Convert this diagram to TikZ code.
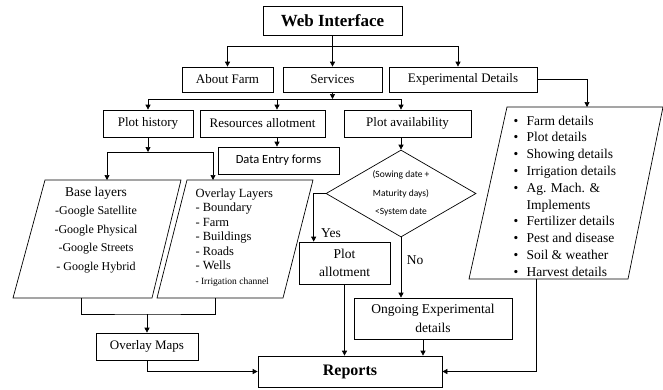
\documentclass[tikz,border=0pt]{standalone}
\usepackage{fontspec}
\setmainfont{Liberation Serif}
\newfontfamily\calibri{Carlito}
\usetikzlibrary{arrows.meta,calc,shapes.geometric,positioning}

\newcommand{\bitem}{\makebox[13pt][l]{\textbullet}}

\begin{document}
\begin{tikzpicture}[x=1pt,y=-1pt]
    \tikzset{BoxStyle/.style={draw, line width=0.7pt, inner sep=0pt, align=center,
        font=\fontsize{13}{18}\selectfont},
      ParaStyle/.style={draw, line width=0.7pt, line join=miter},
      EdgeStyle/.style={line width=0.7pt, -{Triangle[length=5pt,width=5pt]}},
      LineStyle/.style={line width=0.7pt}}
    \useasboundingbox (0,0) rectangle (663,389);
    \node[BoxStyle, minimum width=139pt, minimum height=29pt, font=\fontsize{17}{20}\selectfont\bfseries] (web) at (332.5,20.5) {Web Interface};
    \node[BoxStyle, minimum width=91pt, minimum height=25pt] (about) at (227.5,79.5) {About Farm};
    \node[BoxStyle, minimum width=99pt, minimum height=25pt] (services) at (332.5,79.5) {Services};
    \node[BoxStyle, minimum width=148pt, minimum height=25pt] (expt) at (463,79.5) {Experimental Details};
    \node[BoxStyle, minimum width=90pt, minimum height=27pt] (plothist) at (148,123.5) {Plot history};
    \node[BoxStyle, minimum width=125pt, minimum height=27pt] (resource) at (262.5,123.5) {Resources allotment};
    \node[BoxStyle, minimum width=127pt, minimum height=27pt] (plotavail) at (407.5,123.5) {Plot availability};
    \node[BoxStyle, minimum width=121pt, minimum height=27pt, font=\calibri\fontsize{12.5}{15}\selectfont] (dataentry) at (278.5,160.5) {Data Entry forms};
    \draw[ParaStyle] (45,180) coordinate (baseNW) -- (181,180) coordinate (baseNE) -- (152,298) coordinate (baseSE) -- (13,298) coordinate (baseSW) -- cycle;
    \draw[ParaStyle] (187,180) coordinate (overlayNW) -- (313,180) coordinate (overlayNE) -- (283,298) coordinate (overlaySE) -- (157,298) coordinate (overlaySW) -- cycle;
    \draw[ParaStyle] (507,107) coordinate (expNW) -- (663,107) coordinate (expNE) -- (628,279) coordinate (expSE) -- (469,279) coordinate (expSW) -- cycle;
    \node[align=center, font=\fontsize{12}{18.5}\selectfont] (basetxt) at (96,230) {{\fontsize{13.5}{18.5}\selectfont Base layers}\\-Google Satellite\\-Google Physical\\-Google Streets\\- Google Hybrid};
    \node[align=left, anchor=west, font=\fontsize{12.5}{14.5}\selectfont] (overlaytxt) at (192,237.5) {Overlay Layers\\- Boundary\\- Farm\\- Buildings\\- Roads\\- Wells\\{\fontsize{9.5}{14.5}\selectfont - Irrigation channel}};
    \node[align=left, anchor=west, font=\fontsize{13.5}{16.8}\selectfont] (expttxt) at (510,196) {\bitem Farm details\\\bitem Plot details\\\bitem Showing details\\\bitem Irrigation details\\\bitem Ag. Mach. \&\\\hphantom{\bitem}Implements\\\bitem Fertilizer details\\\bitem Pest and disease\\\bitem Soil \& weather\\\bitem Harvest details};
    \node[draw, line width=0.7pt, diamond, aspect=1.72, minimum width=150pt, minimum height=87pt, inner sep=0pt, align=center,
      font=\calibri\fontsize{9.5}{18.5}\selectfont] (avail) at (401,193.5) {(Sowing date +\\Maturity days)\\<System date};
    \node[BoxStyle, minimum width=91pt, minimum height=42pt, font=\fontsize{13.5}{18}\selectfont] (allot) at (344.5,263) {Plot\\allotment};
    \node[BoxStyle, minimum width=158pt, minimum height=41pt, font=\fontsize{13.5}{19}\selectfont] (ongoing) at (433,318.5) {Ongoing Experimental\\details};
    \node[BoxStyle, minimum width=102pt, minimum height=27pt] (maps) at (147,346.5) {Overlay Maps};
    \node[BoxStyle, minimum width=184pt, minimum height=31pt, font=\fontsize{16}{19}\selectfont\bfseries] (reports) at (350,371.5) {Reports};
    \node[font=\fontsize{13.5}{16}\selectfont] (yes) at (331,233) {Yes};
    \node[font=\fontsize{13.5}{16}\selectfont] (no) at (415,260) {No};
    \coordinate (webJoin) at (332.5,46);
    \coordinate (srvJoin) at (332.5,99);
    \coordinate (histJoin) at (148,152);
    \coordinate (baseIn) at (107,180);
    \coordinate (overlayIn) at (213,180);
    \coordinate (baseOut) at (81,298);
    \coordinate (overlayOut) at (215,298);
    \coordinate (layerJoin) at (147,314);
    \coordinate (expIn) at (587,107);
    \coordinate (expOut) at (536,279);
    \coordinate (resOut) at (277,137);
    \coordinate (ongOut) at ($(ongoing.south)+(-10,0)$);
    \draw[LineStyle] (web.south) -- (webJoin);
    \draw[EdgeStyle] (webJoin) -- (services.north);
    \draw[EdgeStyle] (webJoin) -| (about.north);
    \draw[EdgeStyle] (webJoin) -| ($(expt.north)+(-5,0)$);
    \draw[EdgeStyle] (expt.east) -| (expIn);
    \draw[EdgeStyle] (services.south) -- (srvJoin);
    \draw[EdgeStyle] (srvJoin) -| (plothist.north);
    \draw[EdgeStyle] (srvJoin) -| ($(resource.north)+(14.5,0)$);
    \draw[EdgeStyle] (srvJoin) -| (avail.north |- plotavail.north);
    \draw[EdgeStyle] (resOut) -- (resOut |- dataentry.north);
    \draw[EdgeStyle] (plothist.south) -- (histJoin);
    \draw[EdgeStyle] (histJoin) -| (baseIn);
    \draw[EdgeStyle] (histJoin) -| (overlayIn);
    \draw[LineStyle] (baseOut) |- (layerJoin) -| (overlayOut);
    \draw[EdgeStyle] (layerJoin) -- (maps.north);
    \draw[EdgeStyle] (maps.south) |- (reports.west);
    \draw[EdgeStyle] (avail.north |- plotavail.south) -- (avail.north);
    \draw[EdgeStyle] (avail.west) -| ($(allot.north west)+(15,0)$);
    \draw[EdgeStyle] (avail.south) -- (avail.south |- ongoing.north);
    \draw[EdgeStyle] (allot.south) -- (allot.south |- reports.north);
    \draw[EdgeStyle] (ongOut) -- (ongOut |- reports.north);
    \draw[EdgeStyle] (expOut) |- (reports.east);
\end{tikzpicture}
\end{document}
